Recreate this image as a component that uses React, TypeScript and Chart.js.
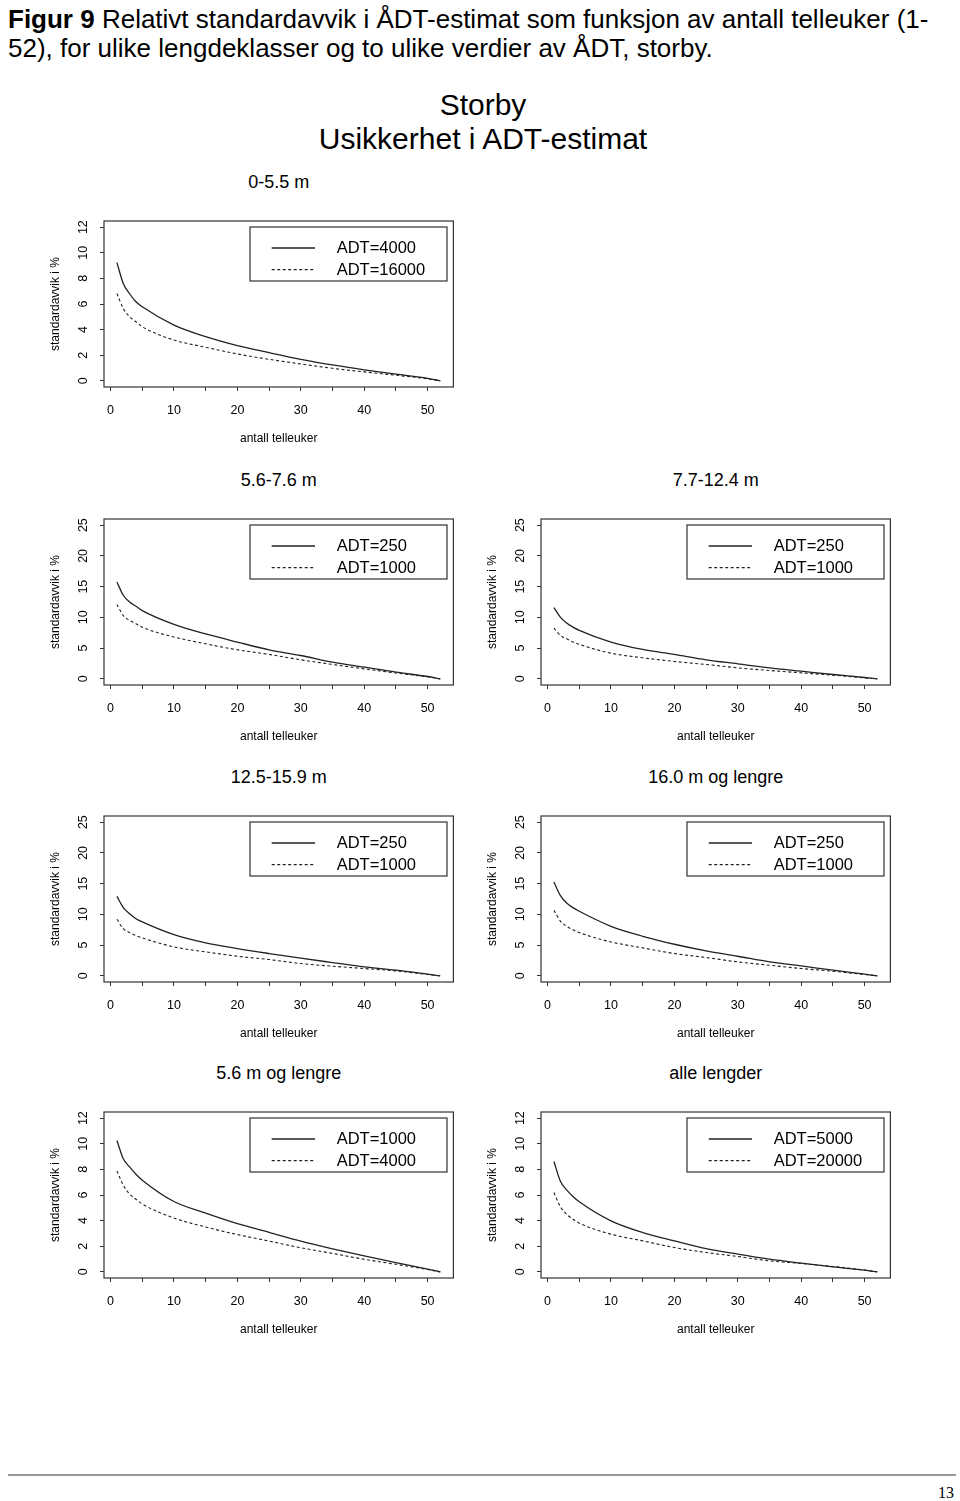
import React, { useEffect, useRef } from "react";
import { Chart, registerables } from "chart.js";

Chart.register(...registerables);

// ---------- data ----------
const weeks = [1, 2, 3, 4, 5, 10, 15, 20, 25, 30, 35, 40, 45, 50, 52];

const panelTitles = [
  "0-5.5 m",
  "5.6-7.6 m",
  "7.7-12.4 m",
  "12.5-15.9 m",
  "16.0 m og lengre",
  "5.6 m og lengre",
  "alle lengder",
];
const solidLabels = ["ADT=4000", "ADT=250", "ADT=250", "ADT=250", "ADT=250", "ADT=1000", "ADT=5000"];
const dashedLabels = ["ADT=16000", "ADT=1000", "ADT=1000", "ADT=1000", "ADT=1000", "ADT=4000", "ADT=20000"];
const yMaxes = [12, 25, 25, 25, 25, 12, 12];
const ySteps = [2, 5, 5, 5, 5, 2, 2];

const l0_55_adt4000 = [9.23, 7.6, 6.8, 6.17, 5.78, 4.35, 3.45, 2.75, 2.2, 1.68, 1.24, 0.86, 0.52, 0.2, 0];
const l0_55_adt16000 = [6.82, 5.65, 5.0, 4.61, 4.22, 3.19, 2.62, 2.1, 1.68, 1.32, 0.98, 0.7, 0.44, 0.16, 0];

const l56_76_adt250 = [15.76, 13.6, 12.5, 11.8, 11.1, 8.86, 7.3, 5.98, 4.73, 3.8, 2.72, 1.9, 1.09, 0.38, 0];
const l56_76_adt1000 = [12.1, 10.3, 9.5, 8.97, 8.4, 6.8, 5.7, 4.73, 3.97, 3.1, 2.34, 1.63, 0.95, 0.33, 0];

const l77_124_adt250 = [11.58, 10.05, 9.08, 8.42, 7.88, 5.98, 4.78, 3.97, 3.1, 2.45, 1.79, 1.25, 0.71, 0.22, 0];
const l77_124_adt1000 = [8.26, 7.07, 6.52, 6.0, 5.6, 4.18, 3.42, 2.83, 2.34, 1.79, 1.36, 0.98, 0.6, 0.16, 0];

const l125_159_adt250 = [12.93, 11.1, 10.1, 9.3, 8.77, 6.7, 5.36, 4.44, 3.63, 2.87, 2.16, 1.46, 0.92, 0.27, 0];
const l125_159_adt1000 = [9.2, 7.68, 7.03, 6.55, 6.17, 4.71, 3.9, 3.19, 2.65, 2.0, 1.57, 1.19, 0.81, 0.22, 0];

const l160_adt250 = [15.26, 13.1, 11.85, 11.1, 10.5, 8.06, 6.44, 5.14, 4.06, 3.19, 2.27, 1.62, 0.92, 0.27, 0];
const l160_adt1000 = [10.66, 8.93, 8.06, 7.5, 7.03, 5.52, 4.55, 3.63, 2.98, 2.27, 1.73, 1.19, 0.75, 0.22, 0];

const l56plus_adt1000 = [10.25, 8.83, 8.19, 7.62, 7.16, 5.49, 4.58, 3.76, 3.09, 2.4, 1.8, 1.24, 0.72, 0.21, 0];
const l56plus_adt4000 = [7.88, 6.77, 6.08, 5.67, 5.3, 4.2, 3.5, 2.91, 2.4, 1.88, 1.44, 0.98, 0.59, 0.18, 0];

const alle_adt5000 = [8.62, 7.1, 6.4, 5.88, 5.47, 3.98, 3.07, 2.42, 1.82, 1.38, 0.99, 0.68, 0.39, 0.13, 0];
const alle_adt20000 = [6.19, 5.1, 4.5, 4.11, 3.8, 2.94, 2.42, 1.9, 1.51, 1.2, 0.86, 0.65, 0.42, 0.14, 0];

const solidSeries = [l0_55_adt4000, l56_76_adt250, l77_124_adt250, l125_159_adt250, l160_adt250, l56plus_adt1000, alle_adt5000];
const dashedSeries = [l0_55_adt16000, l56_76_adt1000, l77_124_adt1000, l125_159_adt1000, l160_adt1000, l56plus_adt4000, alle_adt20000];

const xTitle = "antall telleuker";
const yTitle = "standardavvik i %";

// ---------- layout ----------
const FONT = "'Liberation Sans', Arial, Helvetica, sans-serif";
const LINE = "#222";
const CW = 420;
const CH = 250;
const PAD_TOP = 10;
const AREA_H = 166;
const XH = 64;
const YW = 64;
const PAD_R = 6.6;
const PAD_B = CH - PAD_TOP - AREA_H - XH;
const colLefts = [40, 477];
const rowTops = [221, 519, 816, 1112];
const panelPos = [
  [0, 0],
  [1, 0],
  [1, 1],
  [2, 0],
  [2, 1],
  [3, 0],
  [3, 1],
];

Chart.defaults.font.family = FONT;

const boxPlugin = {
  id: "rBox",
  afterDraw(chart: any, _args: any, opts: any) {
    const { ctx, chartArea: a } = chart;
    ctx.save();
    ctx.strokeStyle = "#333";
    ctx.lineWidth = 1.2;
    ctx.strokeRect(a.left, a.top, a.right - a.left, a.bottom - a.top);
    // legend box (R style, topright)
    const lw = 197;
    const lh = 54;
    const lx = a.right - 6.4 - lw;
    const ly = a.top + 6;
    ctx.fillStyle = "#fff";
    ctx.fillRect(lx, ly, lw, lh);
    ctx.strokeRect(lx, ly, lw, lh);
    const rows = [ly + 21, ly + 42.6];
    chart.data.datasets.forEach((ds: any, i: number) => {
      ctx.save();
      ctx.strokeStyle = LINE;
      ctx.lineWidth = ds.borderWidth;
      ctx.setLineDash(ds.borderDash || []);
      ctx.beginPath();
      ctx.moveTo(lx + 21.7, rows[i]);
      ctx.lineTo(lx + 65, rows[i]);
      ctx.stroke();
      ctx.restore();
      ctx.fillStyle = "#000";
      ctx.font = `16.5px ${FONT}`;
      ctx.textAlign = "left";
      ctx.textBaseline = "middle";
      ctx.fillText(ds.label, lx + 86.7, rows[i] + 0.5);
    });
    ctx.restore();
  },
};

function Panel({ idx }: { idx: number }) {
  const ref = useRef<HTMLCanvasElement>(null);
  useEffect(() => {
    if (!ref.current) return;
    const yMax = yMaxes[idx];
    const chart = new Chart(ref.current, {
      type: "line",
      data: {
        datasets: [
          {
            label: solidLabels[idx],
            data: weeks.map((w, i) => ({ x: w, y: solidSeries[idx][i] })),
            borderColor: LINE,
            borderWidth: 1.3,
            pointRadius: 0,
            cubicInterpolationMode: "monotone",
            fill: false,
          },
          {
            label: dashedLabels[idx],
            data: weeks.map((w, i) => ({ x: w, y: dashedSeries[idx][i] })),
            borderColor: LINE,
            borderWidth: 1.1,
            borderDash: [3, 2.5],
            pointRadius: 0,
            cubicInterpolationMode: "monotone",
            fill: false,
          },
        ],
      },
      options: {
        responsive: false,
        animation: false,
        devicePixelRatio: 1,
        layout: { padding: { left: 0, top: PAD_TOP, right: PAD_R, bottom: PAD_B } },
        plugins: { legend: { display: false }, tooltip: { enabled: false } },
        scales: {
          x: {
            type: "linear",
            min: -1.04,
            max: 54.07,
            afterFit: (s: any) => {
              s.height = XH;
              s.paddingLeft = 0;
              s.paddingRight = 0;
            },
            border: { display: false },
            grid: { drawOnChartArea: false, drawTicks: true, tickLength: 4, color: "#333", lineWidth: 1 },
            ticks: {
              stepSize: 5,
              includeBounds: false,
              autoSkip: false,
              minRotation: 0,
              maxRotation: 0,
              padding: 12.5,
              color: "#000",
              font: { size: 12.5 },
              callback: (v: any) => (Math.abs(v % 10) < 1e-9 ? String(v) : ""),
            },
            title: {
              display: true,
              text: xTitle,
              color: "#000",
              font: { size: 12 },
              padding: { top: 0, bottom: 5.5 },
            },
          },
          y: {
            type: "linear",
            min: -yMax * 0.04,
            max: yMax * 1.04,
            afterFit: (s: any) => {
              s.width = YW;
              s.paddingTop = 0;
              s.paddingBottom = 0;
            },
            border: { display: false },
            grid: { drawOnChartArea: false, drawTicks: true, tickLength: 4, color: "#333", lineWidth: 1 },
            ticks: {
              stepSize: ySteps[idx],
              includeBounds: false,
              autoSkip: false,
              minRotation: 90,
              maxRotation: 90,
              crossAlign: "center",
              padding: 9.75,
              color: "#000",
              font: { size: 12.5 },
            },
            title: {
              display: true,
              text: yTitle,
              color: "#000",
              font: { size: 12 },
              padding: { top: 8.5, bottom: 0 },
            },
          },
        },
      } as any,
      plugins: [boxPlugin],
    });
    return () => chart.destroy();
  }, [idx]);

  const [row, col] = panelPos[idx];
  const left = colLefts[col];
  const top = rowTops[row] - PAD_TOP;
  const cx = left + (YW + (CW - PAD_R)) / 2;
  return (
    <>
      <div
        style={{
          position: "absolute",
          left: cx - 150,
          top: rowTops[row] - 39.5 - 11,
          width: 300,
          textAlign: "center",
          fontSize: 18,
          lineHeight: "22px",
          color: "#000",
        }}
      >
        {panelTitles[idx]}
      </div>
      <canvas
        ref={ref}
        width={CW}
        height={CH}
        style={{ position: "absolute", left, top, width: CW, height: CH }}
      />
    </>
  );
}

export default function App() {
  return (
    <div
      style={{
        position: "absolute",
        left: 0,
        top: 0,
        width: 960,
        height: 1501,
        background: "#fff",
        fontFamily: FONT,
        overflow: "hidden",
      }}
    >
      <div
        style={{
          position: "absolute",
          left: 8,
          top: 5,
          fontSize: 26,
          lineHeight: "29px",
          whiteSpace: "nowrap",
          color: "#000",
        }}
      >
        <b>Figur 9</b> Relativt standardavvik i ÅDT-estimat som funksjon av antall telleuker (1-
        <br />
        52), for ulike lengdeklasser og to ulike verdier av ÅDT, storby.
      </div>
      <div
        style={{
          position: "absolute",
          left: 0,
          top: 88,
          width: 966,
          textAlign: "center",
          fontSize: 30,
          lineHeight: "34px",
          color: "#000",
        }}
      >
        Storby
        <br />
        Usikkerhet i ADT-estimat
      </div>
      {panelTitles.map((_, i) => (
        <Panel key={i} idx={i} />
      ))}
      <div style={{ position: "absolute", left: 8, top: 1474, width: 948, height: 2, background: "#999" }} />
      <div
        style={{
          position: "absolute",
          left: 926,
          top: 1483,
          width: 40,
          textAlign: "center",
          fontFamily: "'Liberation Serif', 'Times New Roman', serif",
          fontSize: 16,
          lineHeight: "20px",
          color: "#000",
        }}
      >
        13
      </div>
    </div>
  );
}
